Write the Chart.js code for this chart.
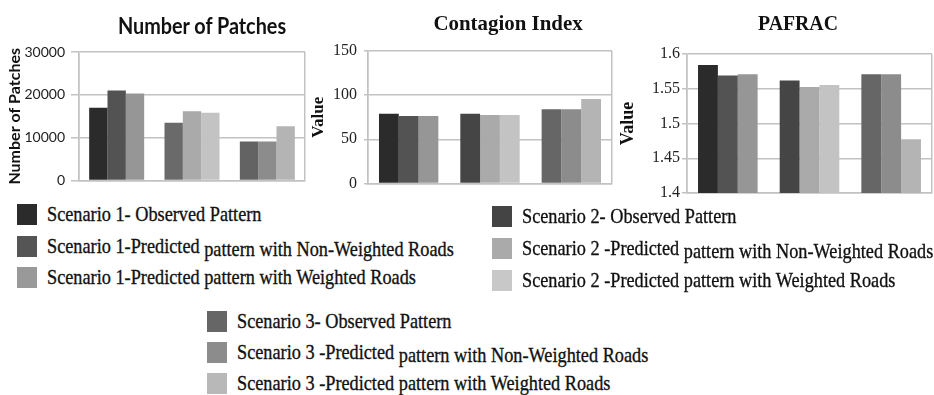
<!DOCTYPE html>
<html>
<head>
<meta charset="utf-8">
<script src="https://cdn.jsdelivr.net/npm/chart.js"></script>
<style>
  body { margin: 0; background: #fff; }
  #page { position: relative; width: 934px; height: 395px; overflow: hidden; }
  canvas { position: absolute; }
  .title { position: absolute; width: 300px; text-align: center; line-height: 26px; color: #111; white-space: nowrap; }
  .row { position: absolute; height: 26px; display: flex; align-items: center; white-space: nowrap; }
  .box { width: 20px; height: 21px; flex: none; }
  .txt { font-family: "Liberation Serif", serif; font-size: 22px; line-height: 26px; color: #111;
         -webkit-text-stroke: 0.35px #111;
         transform: scaleX(0.83); transform-origin: left center; margin-left: 10px; }
  .low { position: relative; top: 3px; }
</style>
</head>
<body>
<div id="page">
  <canvas id="patches" width="308" height="195" style="left:0;top:0"></canvas>
  <canvas id="contagion" width="312" height="200" style="left:308px;top:0"></canvas>
  <canvas id="pafrac" width="316" height="205" style="left:618px;top:0"></canvas>
  <div class="title" style="left:52px;top:12px;font:bold 22px Lato;transform:scaleX(0.9)">Number of Patches</div>
  <div class="title" style="left:358px;top:10px;font:bold 22px 'Liberation Serif';transform:scaleX(0.95)">Contagion Index</div>
  <div class="title" style="left:648px;top:10px;font:bold 22px 'Liberation Serif';transform:scaleX(0.9)">PAFRAC</div>
  <div id="legend"></div>
</div>
<script>
// categories (one group per scenario, no labels shown on x axis)
const scenarios = ['Scenario 1', 'Scenario 2', 'Scenario 3'];

// Number of Patches
const patchesObserved = [17000, 13500, 9100];
const patchesNonWeighted = [21000, 16200, 9100];
const patchesWeighted = [20300, 15800, 12700];

// Contagion Index
const contagionObserved = [79, 79, 84];
const contagionNonWeighted = [76.5, 77.5, 84];
const contagionWeighted = [76.5, 77.5, 95.5];

// PAFRAC
const pafracObserved = [1.584, 1.562, 1.571];
const pafracNonWeighted = [1.569, 1.5525, 1.571];
const pafracWeighted = [1.571, 1.5555, 1.4775];

// legend entries
const legendLabels = [
    ['Scenario 1- Observed Pattern', 'Scenario 1-Predicted pattern with Non-Weighted Roads', 'Scenario 1-Predicted pattern with Weighted Roads'],
    ['Scenario 2- Observed Pattern', 'Scenario 2 -Predicted pattern with Non-Weighted Roads', 'Scenario 2 -Predicted pattern with Weighted Roads'],
    ['Scenario 3- Observed Pattern', 'Scenario 3 -Predicted pattern with Non-Weighted Roads', 'Scenario 3 -Predicted pattern with Weighted Roads']
];

// grey shades, per scenario: observed / non-weighted / weighted
const shades = [
    ['#2b2b2b', '#535353', '#969696'],
    ['#454545', '#aaaaaa', '#c3c3c3'],
    ['#666666', '#8c8c8c', '#b4b4b4']
];
const legendShades = [
    ['#2b2b2b', '#555555', '#999999'],
    ['#444444', '#aaaaaa', '#c8c8c8'],
    ['#666666', '#8c8c8c', '#b8b8b8']
];

const gridGrey = '#c2c2c2';

function colOf(role, override) {
    return shades.map((s, i) => (override && override[i]) || s[role]);
}

function makeChart(id, values, opts) {
    const roles = values.map((v, r) => ({
        data: v,
        backgroundColor: colOf(r, opts.override && opts.override[r]),
        borderWidth: 0,
        categoryPercentage: 0.73,
        barPercentage: 1
    }));
    return new Chart(document.getElementById(id), {
        type: 'bar',
        data: { labels: scenarios, datasets: roles },
        options: {
            responsive: false,
            animation: false,
            layout: { padding: opts.padding },
            plugins: { legend: { display: false }, tooltip: { enabled: false } },
            scales: {
                x: {
                    ticks: { display: false },
                    grid: {
                        drawTicks: false,
                        lineWidth: 1.5,
                        color: c => (c.type === 'scale' || c.index === 0) ? gridGrey : 'transparent'
                    },
                    border: { color: gridGrey, width: 1.5 },
                    afterFit: s => { s.height = 0; }
                },
                y: {
                    min: opts.min, max: opts.max,
                    ticks: {
                        stepSize: opts.step,
                        color: '#222',
                        padding: opts.tickPad,
                        font: opts.tickFont,
                        callback: v => String(v)
                    },
                    grid: { color: gridGrey, lineWidth: 1.5, tickLength: opts.tickLen },
                    border: { color: gridGrey, width: 1.5 },
                    title: {
                        display: true,
                        text: opts.yTitle,
                        color: '#111',
                        font: opts.titleFont,
                        padding: { top: opts.titlePad, bottom: 0 }
                    },
                    afterFit: s => { s.width = opts.axisWidth; }
                }
            }
        }
    });
}

makeChart('patches', [patchesObserved, patchesNonWeighted, patchesWeighted], {
    min: 0, max: 30000, step: 10000,
    padding: { left: 0, right: 3, top: 52, bottom: 13 },
    axisWidth: 79, tickLen: 8, tickPad: 6,
    tickFont: { family: 'Lato', size: 14 },
    yTitle: 'Number of Patches',
    titleFont: { family: 'Lato', size: 16, weight: 'bold' },
    titlePad: 5,
    override: [[null, '#6a6a6a', '#636363']]
});

makeChart('contagion', [contagionObserved, contagionNonWeighted, contagionWeighted], {
    min: 0, max: 150, step: 50,
    padding: { left: 0, right: 8, top: 51, bottom: 13 },
    axisWidth: 60, tickLen: 4, tickPad: 7,
    tickFont: { family: 'Liberation Serif', size: 16 },
    yTitle: 'Value',
    titleFont: { family: 'Liberation Serif', size: 17, weight: 'bold' },
    titlePad: 0
});

makeChart('pafrac', [pafracObserved, pafracNonWeighted, pafracWeighted], {
    min: 1.4, max: 1.6, step: 0.05,
    padding: { left: 0, right: 2, top: 54, bottom: 12 },
    axisWidth: 69, tickLen: 5, tickPad: 2,
    tickFont: { family: 'Liberation Serif', size: 16 },
    yTitle: 'Value',
    titleFont: { family: 'Liberation Serif', size: 18, weight: 'bold' },
    titlePad: 0
});

// legend blocks: square x, row centres
const legendSpots = [
    { box: 17, rows: [214, 246, 277] },
    { box: 492, rows: [216, 248, 280] },
    { box: 207, rows: [321, 352, 383] }
];

const legend = document.getElementById('legend');
legendLabels.forEach((labels, s) => {
    labels.forEach((label, r) => {
        const row = document.createElement('div');
        row.className = 'row';
        row.style.left = legendSpots[s].box + 'px';
        row.style.top = (legendSpots[s].rows[r] - 13) + 'px';
        const box = document.createElement('div');
        box.className = 'box';
        box.style.background = legendShades[s][r];
        const txt = document.createElement('span');
        txt.className = 'txt';
        const cut = label.indexOf(' pattern with Non');
        if (cut > 0) {
            txt.textContent = label.slice(0, cut) + ' ';
            const low = document.createElement('span');
            low.className = 'low';
            low.textContent = label.slice(cut + 1);
            txt.appendChild(low);
        } else {
            txt.textContent = label;
        }
        row.appendChild(box);
        row.appendChild(txt);
        legend.appendChild(row);
    });
});
</script>
</body>
</html>
